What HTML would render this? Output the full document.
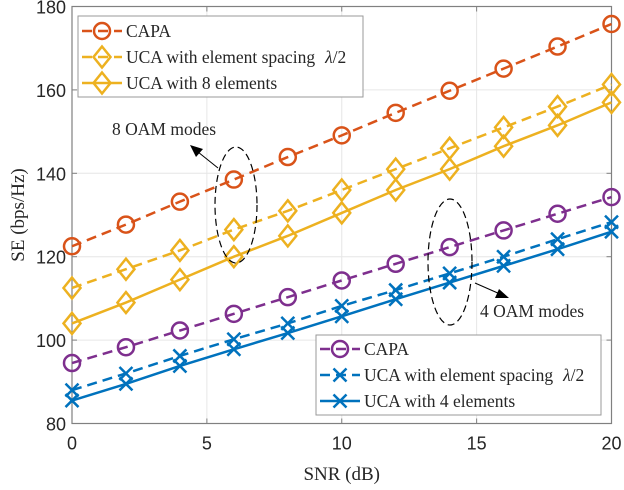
<!DOCTYPE html>
<html><head><meta charset="utf-8"><style>
body{margin:0;background:#fff}
svg{display:block}
.t{font-family:"Liberation Serif",serif;font-size:17.5px;fill:#262626}
.tk{font-family:"Liberation Sans",sans-serif;font-size:18px;fill:#262626}
</style></head><body>
<svg id="chart" width="624" height="490" viewBox="0 0 624 490">
<g id="grid"></g>
<g id="axes"></g>
<g id="series"></g>
<g>
<ellipse cx="236" cy="205" rx="21" ry="58" fill="none" stroke="#000" stroke-width="1.2" stroke-dasharray="7,4"/>
<line x1="218" y1="168" x2="198" y2="152" stroke="#000" stroke-width="1"/>
<polygon points="190,145 203,149 196,157" fill="#000"/>
<text class="t" x="112" y="135">8 OAM modes</text>
</g>
<g>
<ellipse cx="450" cy="262" rx="22" ry="63" fill="none" stroke="#000" stroke-width="1.2" stroke-dasharray="7,4"/>
<line x1="475" y1="283" x2="500" y2="294" stroke="#000" stroke-width="1"/>
<polygon points="509,298 495,298 499,289" fill="#000"/>
<text class="t" x="480" y="317">4 OAM modes</text>
</g>
<g id="leg1">
<rect x="78" y="16" width="285" height="81" fill="#fff" stroke="#999" stroke-width="1"/>
</g>
<g id="leg2">
<rect x="316" y="335" width="285" height="80" fill="#fff" stroke="#999" stroke-width="1"/>
</g>
</svg>
<script>
const snr=[0,2,4,6,8,10,12,14,16,18,20];
const capa8=[122.5,127.7,133.2,138.5,143.9,149.1,154.5,159.8,165.1,170.4,175.8];
const ucaSpacing8=[112.5,117,121.5,126.5,131,136,141,146,151,156,161.3];
const uca8=[104,109,114.5,120,125,130.5,136,141,146.5,151.5,157];
const capa4=[94.5,98.3,102.3,106.3,110.3,114.3,118.3,122.3,126.3,130.3,134.3];
const ucaSpacing4=[88,92,96.2,100.2,104,108.2,112,116,120,124.2,128.3];
const uca4=[85.5,89.5,93.8,97.8,101.7,105.7,109.8,113.8,117.8,121.8,126];
const xTicks=[0,5,10,15,20];
const yTicks=[80,100,120,140,160,180];
const NS='http://www.w3.org/2000/svg';
const X0=72,X1=611.5,Y0=423.5,Y1=6.5;
const xs=v=>X0+(v-0)/20*(X1-X0);
const ys=v=>Y0-(v-80)/100*(Y0-Y1);
function mk(tag,attrs,parent){const e=document.createElementNS(NS,tag);for(const k in attrs)e.setAttribute(k,attrs[k]);parent.appendChild(e);return e;}
const grid=document.getElementById('grid'),axes=document.getElementById('axes'),ser=document.getElementById('series');
xTicks.forEach(t=>{
 const g=mk('line',{x1:xs(t),x2:xs(t),y1:Y1,y2:Y0,stroke:'#e6e6e6','stroke-width':1},grid);
 
 
 mk('line',{x1:xs(t),x2:xs(t),y1:Y0,y2:Y0-5,stroke:'#808080'},axes);
 mk('line',{x1:xs(t),x2:xs(t),y1:Y1,y2:Y1+5,stroke:'#808080'},axes);
 const l=mk('text',{x:xs(t),y:Y0+26,'text-anchor':'middle',class:'tk'},axes);l.textContent=t;
 
 
});
yTicks.forEach(t=>{
 const g=mk('line',{x1:X0,x2:X1,y1:ys(t),y2:ys(t),stroke:'#e6e6e6','stroke-width':1},grid);
 
 
 mk('line',{x1:X0,x2:X0+5,y1:ys(t),y2:ys(t),stroke:'#808080'},axes);
 mk('line',{x1:X1,x2:X1-5,y1:ys(t),y2:ys(t),stroke:'#808080'},axes);
 const l=mk('text',{x:X0-6,y:ys(t)+7,'text-anchor':'end',class:'tk'},axes);l.textContent=t;
 
 
});
const box=mk('rect',{x:X0,y:Y1,width:X1-X0,height:Y0-Y1,fill:'none',stroke:'#808080','stroke-width':1.2},axes);


const xt=mk('text',{x:(X0+X1)/2,y:480,'text-anchor':'middle',class:'t',style:'font-size:19px'},axes);xt.textContent='SNR (dB)';


const yt=mk('text',{x:0,y:0,'text-anchor':'middle',class:'t',style:'font-size:19px',transform:`translate(24,${(Y0+Y1)/2}) rotate(-90)`},axes);yt.textContent='SE (bps/Hz)';


function marker(type,x,y,c,p){
 if(type==='o'){mk('circle',{cx:x,cy:y,r:8,fill:'none',stroke:c,'stroke-width':2.5},p);}
 else if(type==='d'){mk('polygon',{points:`${x},${y-10.5} ${x+8.5},${y} ${x},${y+10.5} ${x-8.5},${y}`,fill:'none',stroke:c,'stroke-width':2.5},p);}
 else{mk('path',{d:`M${x-6.5},${y-6.5}L${x+6.5},${y+6.5}M${x-6.5},${y+6.5}L${x+6.5},${y-6.5}`,stroke:c,'stroke-width':2.5},p);}
}
const defs=[
 {d:capa8,c:'#D95319',m:'o',dash:true,n:'series-capa-8'},
 {d:ucaSpacing8,c:'#EDB120',m:'d',dash:true,n:'series-uca-spacing-8'},
 {d:uca8,c:'#EDB120',m:'d',dash:false,n:'series-uca-8-elements'},
 {d:capa4,c:'#7E2F8E',m:'o',dash:true,n:'series-capa-4'},
 {d:ucaSpacing4,c:'#0072BD',m:'x',dash:true,n:'series-uca-spacing-4'},
 {d:uca4,c:'#0072BD',m:'x',dash:false,n:'series-uca-4-elements'}];
defs.forEach(s=>{
 const g=mk('g',{},ser);
 
 
 const pts=s.d.map((v,i)=>xs(snr[i])+','+ys(v)).join(' ');
 const a={points:pts,fill:'none',stroke:s.c,'stroke-width':2.5};
 if(s.dash)a['stroke-dasharray']='10,6';
 mk('polyline',a,g);
 s.d.forEach((v,i)=>marker(s.m,xs(snr[i]),ys(v),s.c,g));
});
function legend(p,x,y,items){
 items.forEach((it,i)=>{
  const yy=y+i*26;
  const g=mk('g',{},p);
  
  
  const a={x1:x,x2:x+40,y1:yy,y2:yy,stroke:it.c,'stroke-width':2.5};
  if(it.dash)a['stroke-dasharray']='10,6';
  mk('line',a,g);
  marker(it.m,x+20,yy,it.c,g);
  const t=mk('text',{x:x+44,y:yy+6,class:'t'},g);t.textContent=it.t;
  if(it.l){const s=mk('tspan',{dx:10,'font-style':'italic'},t);s.textContent='λ';const s2=mk('tspan',{},t);s2.textContent='/2';}
 });
}
legend(document.getElementById('leg1'),82,31,[
 {c:'#D95319',m:'o',dash:true,t:'CAPA'},
 {c:'#EDB120',m:'d',dash:true,t:'UCA with element spacing',l:true},
 {c:'#EDB120',m:'d',dash:false,t:'UCA with 8 elements'}]);
legend(document.getElementById('leg2'),320,349,[
 {c:'#7E2F8E',m:'o',dash:true,t:'CAPA'},
 {c:'#0072BD',m:'x',dash:true,t:'UCA with element spacing',l:true},
 {c:'#0072BD',m:'x',dash:false,t:'UCA with 4 elements'}]);
</script>
</body></html>
